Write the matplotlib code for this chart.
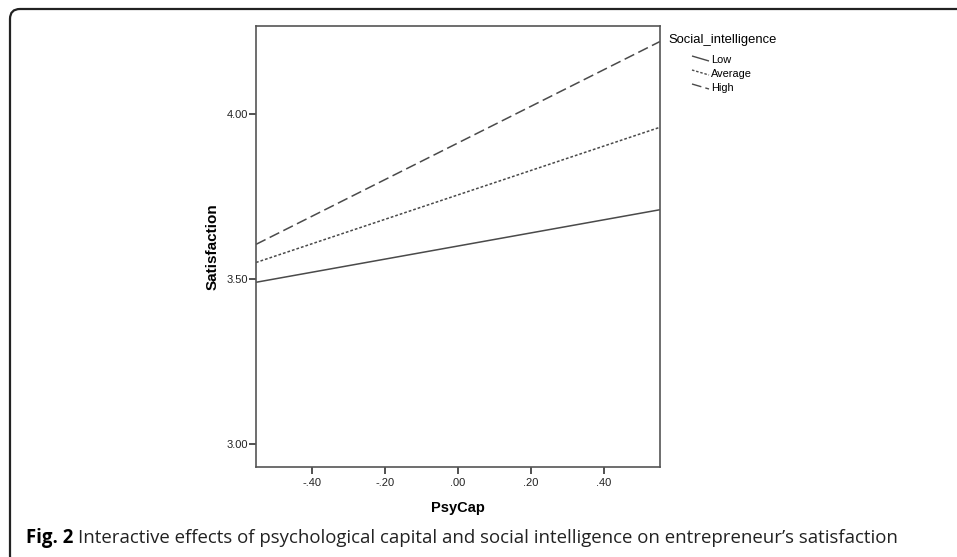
import matplotlib
matplotlib.use("Agg")
import matplotlib.pyplot as plt
from matplotlib.lines import Line2D
from matplotlib.patches import FancyBboxPatch
from matplotlib.transforms import IdentityTransform

# Simple slopes (PsyCap at the axis edges)
psycap = [-0.555, 0.555]
low_si = [3.49, 3.71]
avg_si = [3.55, 3.96]
high_si = [3.605, 4.22]
groups = ["Low", "Average", "High"]

xticks = [-0.4, -0.2, 0.0, 0.2, 0.4]
xtick_labels = ["-.40", "-.20", ".00", ".20", ".40"]
yticks = [3.0, 3.5, 4.0]
ytick_labels = ["3.00", "3.50", "4.00"]

plt.rcParams['font.family'] = ['Liberation Sans', 'DejaVu Sans']
lineColor = '#4a4a4a'
W, H = 957, 557

def fx(px): return px / W
def fy(py): return 1 - py / H

fig = plt.figure(figsize=(9.57, 5.57), dpi=100)

# rounded frame round the whole figure (pixel coords, open past right/bottom)
frame = FancyBboxPatch((10, H - 566), 990, 566 - 9,
                       boxstyle="round,pad=0,rounding_size=10",
                       transform=IdentityTransform(), fill=False,
                       edgecolor='#222222', linewidth=1.6)
fig.add_artist(frame)

ax = fig.add_axes([fx(256), fy(467), fx(660) - fx(256), fy(26) - fy(467)])
styles = [(0, ()), (0, (1.8, 1.3)), (0, (7, 3))]
for vals, ls in zip([low_si, avg_si, high_si], styles):
    ax.plot(psycap, vals, color=lineColor, linewidth=1.1, linestyle=ls)

ax.set_xlim(-0.555, 0.555)
ax.set_ylim(2.93, 4.267)
ax.set_xticks(xticks)
ax.set_xticklabels(xtick_labels)
ax.set_yticks(yticks)
ax.set_yticklabels(ytick_labels)
ax.tick_params(direction='out', length=5, width=1.2, color='#333333',
               labelsize=8, labelcolor='#222222', pad=1)
ax.tick_params(axis='x', pad=3)
for s in ax.spines.values():
    s.set_color('#555555')
    s.set_linewidth(1.2)
ax.set_xlabel("PsyCap", fontsize=10.5, fontweight='bold', labelpad=9)
ax.set_ylabel("Satisfaction", fontsize=11, fontweight='bold', labelpad=5)

# SPSS-style legend at right of the plot
fig.text(fx(668), fy(40), "Social_intelligence", fontsize=9.4, va='center', ha='left')
entry_y = [60, 74, 88]
for name, ls, yy in zip(groups, styles, entry_y):
    fig.add_artist(Line2D([fx(692), fx(709)], [fy(yy - 4), fy(yy + 1)],
                          transform=fig.transFigure, color=lineColor,
                          linewidth=1.0, linestyle=ls))
    fig.text(fx(711), fy(yy), name, fontsize=7.9, va='center', ha='left')

# caption
cap = fig.text(fx(26), fy(538), "Fig. 2", fontsize=13.4, fontweight='bold',
               family='Open Sans', va='center', ha='left')
fig.canvas.draw()
bb = cap.get_window_extent()
fig.text(bb.x1 / W + fx(5), fy(538),
         "Interactive effects of psychological capital and social intelligence on entrepreneur\u2019s satisfaction",
         fontsize=13.4, family='Open Sans', va='center', ha='left', color='#222222')

fig.savefig("out.png", dpi=100)
